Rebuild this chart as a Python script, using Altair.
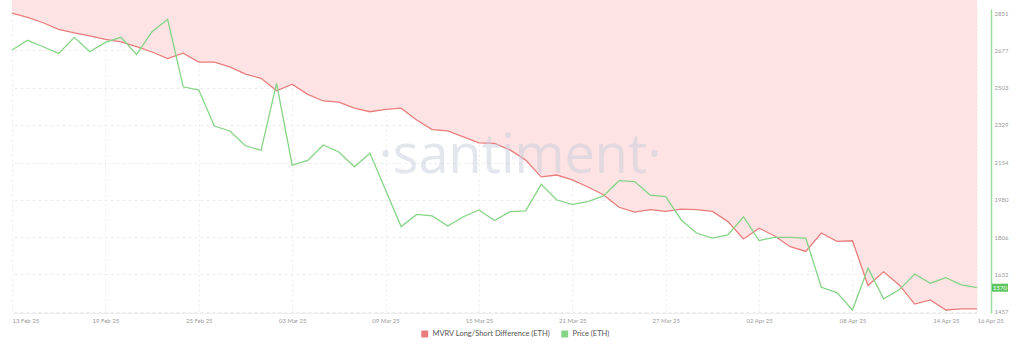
import altair as alt
import pandas as pd

dates = pd.date_range("2025-02-13", "2025-04-16", freq="D").strftime("%Y-%m-%d").tolist()

price_eth = [2679, 2724, 2694, 2663, 2738, 2671, 2714, 2738, 2658, 2764,
             2822, 2507, 2492, 2324, 2301, 2232, 2211, 2523, 2142, 2164,
             2236, 2203, 2134, 2197, 2026, 1855, 1912, 1905, 1858, 1901,
             1933, 1883, 1925, 1928, 2052, 1979, 1959, 1971, 1998, 2069,
             2065, 2002, 1995, 1886, 1824, 1801, 1816, 1901, 1790, 1805,
             1805, 1801, 1572, 1547, 1466, 1661, 1518, 1560, 1634, 1591,
             1617, 1583, 1570]

mvrv_ls_diff = [-10.0, -10.7, -11.6, -12.7, -13.3, -13.8, -14.4, -14.8, -15.6, -16.5,
                -17.6, -16.7, -18.2, -18.2, -19.0, -20.2, -20.9, -23.0, -21.9, -23.6,
                -24.7, -24.9, -25.9, -26.5, -26.1, -25.9, -27.9, -29.5, -29.7, -30.7,
                -31.7, -31.8, -32.9, -34.6, -37.4, -37.1, -37.9, -39.1, -40.4, -42.5,
                -43.3, -42.9, -43.2, -42.8, -42.9, -43.2, -44.9, -47.8, -46.0, -47.3,
                -49.1, -49.9, -46.8, -48.2, -48.1, -55.6, -53.3, -55.5, -58.7, -58.0,
                -59.7, -59.5, -59.5]

tick_dates = ["2025-02-13", "2025-02-19", "2025-02-25", "2025-03-03", "2025-03-09",
              "2025-03-15", "2025-03-21", "2025-03-27", "2025-04-02", "2025-04-08",
              "2025-04-14", "2025-04-16"]
price_ticks = [1457, 1632, 1806, 1980, 2154, 2329, 2503, 2677, 2851]

series_names = ["MVRV Long/Short Difference (ETH)", "Price (ETH)"]
series_colors = ["#e87d7d", "#86d486"]

df = pd.DataFrame({"date": dates, "price": price_eth, "mvrv": mvrv_ls_diff})
df["s_mvrv"] = series_names[0]
df["s_price"] = series_names[1]

FONT = "Lato"
W, H = 965, 304

def dt(s):
    y, m, d = s.split("-")
    return alt.DateTime(year=int(y), month=int(m), date=int(d), utc=True)

first_ms = int(pd.Timestamp(dates[0]).value // 10**6)
last_ms = int(pd.Timestamp(dates[-1]).value // 10**6)

x_enc = alt.X("date:T",
              scale=alt.Scale(type="utc", domain=[dt(dates[0]), dt(dates[-1])]),
              axis=alt.Axis(values=[dt(t) for t in tick_dates], format="%d %b %y",
                            title=None, labelFontSize=6, labelColor="#9a9a9a",
                            labelFont=FONT, labelOverlap=False, ticks=False,
                            labelAlign=alt.ExprRef(
                                expr=f"datum.value >= {last_ms} ? 'left' : (datum.value <= {first_ms} ? 'left' : 'center')"),
                            labelFlush=False,
                            domain=True, domainColor="#eeeeee", labelPadding=4,
                            grid=True, gridColor="#ececec", gridDash=[2, 3]))

color_scale = alt.Scale(domain=series_names, range=series_colors)

mvrv_y = alt.Y("mvrv:Q", scale=alt.Scale(domain=[-60.2, -9.3]), axis=None)

base = alt.Chart(df)

area = base.mark_area(color="#fde3e3", opacity=1).encode(
    x=x_enc, y=mvrv_y, y2=alt.value(0))

red_line = base.mark_line(strokeWidth=1.3).encode(
    x=x_enc, y=mvrv_y,
    color=alt.Color("s_mvrv:N", scale=color_scale,
                    legend=alt.Legend(title=None, orient="none", legendX=409, legendY=321,
                                      direction="horizontal", symbolType="square",
                                      symbolSize=12, labelFontSize=7.5, labelFont=FONT,
                                      labelColor="#555555", columnPadding=5,
                                      symbolStrokeWidth=3.5, labelOffset=4)))

red_layer = alt.layer(area, red_line)

price_axis = alt.Axis(orient="right", values=price_ticks, title=None, format="d",
                      labelFontSize=6, labelColor="#9a9a9a", labelFont=FONT,
                      ticks=False, domainColor="#9fdc9f", domainWidth=1.5,
                      offset=14, labelPadding=3, grid=True,
                      gridColor="#ececec", gridDash=[3, 3])
price_scale = alt.Scale(domain=[1452, 2870], nice=False, zero=False)
price_y = alt.Y("price:Q", scale=price_scale, axis=price_axis)

green_line = base.mark_line(strokeWidth=1.3).encode(
    x=x_enc, y=price_y,
    color=alt.Color("s_price:N", scale=color_scale))

last = pd.DataFrame({"price": [price_eth[-1]], "lbl": [str(price_eth[-1])]})
last_box = alt.Chart(last).mark_rect(color="#5cc45c", height=8, width=16).encode(
    x=alt.value(988), y=price_y)
last_txt = alt.Chart(last).mark_text(color="white", fontSize=6, font=FONT, align="center",
                                     baseline="middle").encode(
    x=alt.value(988), y=price_y, text="lbl:N")

green_layer = alt.layer(green_line, last_box, last_txt)

wm = alt.Chart(pd.DataFrame({"t": ["·santiment·"]})).mark_text(
    fontSize=54, font="Open Sans", color="#c9cedd", opacity=0.5,
    align="center", baseline="middle").encode(
    x=alt.value(508), y=alt.value(148), text="t:N")

chart = alt.layer(red_layer, green_layer, wm).resolve_scale(y="independent").properties(
    width=W, height=H,
    autosize=alt.AutoSizeParams(type="none"),
    padding={"left": 12, "top": 9, "right": 47, "bottom": 41},
    background="white"
).configure_view(stroke=None)

chart.save("out.html", embed_options={"renderer": "svg", "actions": False})
